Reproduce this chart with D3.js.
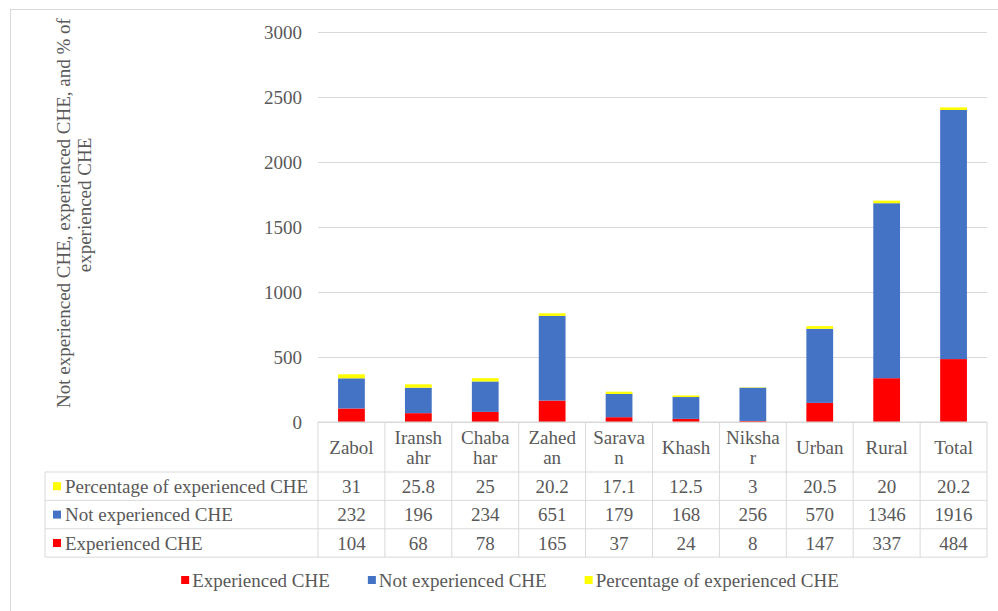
<!DOCTYPE html>
<html>
<head>
<meta charset="utf-8">
<script src="https://cdn.jsdelivr.net/npm/d3@7"></script>
<style>
  html, body { margin: 0; padding: 0; background: #fff; }
  svg { display: block; }
  text { font-family: "Liberation Serif", "Times New Roman", "DejaVu Serif", serif; fill: #595959; }
</style>
</head>
<body>
<svg id="chart" width="998" height="611"></svg>
<script>
// Household counts by district / area, stacked: experienced CHE, not experienced CHE, % experienced
const categories = ["Zabol", "Iranshahr", "Chabahar", "Zahedan", "Saravan", "Khash", "Nikshar", "Urban", "Rural", "Total"];
const experienced = [104, 68, 78, 165, 37, 24, 8, 147, 337, 484];
const notExperienced = [232, 196, 234, 651, 179, 168, 256, 570, 1346, 1916];
const percentExperienced = [31, 25.8, 25, 20.2, 17.1, 12.5, 3, 20.5, 20, 20.2];
const yTicks = [0, 500, 1000, 1500, 2000, 2500, 3000];

const seriesNames = ["Experienced CHE", "Not experienced CHE", "Percentage of experienced CHE"];
const seriesValues = [experienced, notExperienced, percentExperienced];
const seriesColors = ["#ff0000", "#4472c4", "#ffff00"];

const svg = d3.select("#chart");
const FONT = 19;
const SERIF = "Liberation Serif, Times New Roman, DejaVu Serif, serif";
const gridColor = "#d9d9d9";

// outer chart frame
svg.append("rect")
  .attr("x", 10.5).attr("y", 9.5)
  .attr("width", 1000).attr("height", 700)
  .attr("fill", "none").attr("stroke", gridColor);

const plotLeft = 318, plotRight = 987;
const x = d3.scaleBand().domain(categories).range([plotLeft, plotRight]);
const y = d3.scaleLinear().domain([0, 3000]).range([422, 32]);
const barW = x.bandwidth() * 0.4;

// gridlines and tick labels
const yAxis = d3.axisLeft(y)
  .tickValues(yTicks)
  .tickFormat(d3.format("d"))
  .tickSize(-(plotRight - plotLeft))
  .tickPadding(16);
const gAxis = svg.append("g")
  .attr("transform", `translate(${plotLeft},0)`)
  .call(yAxis)
  .attr("font-family", SERIF);
gAxis.select(".domain").remove();
gAxis.selectAll(".tick line").attr("stroke", gridColor);
gAxis.selectAll(".tick text")
  .attr("font-size", FONT)
  .attr("fill", "#595959");

// stacked bars
const rows = categories.map((c, i) => {
  const r = { cat: c };
  seriesNames.forEach((s, k) => { r[s] = seriesValues[k][i]; });
  return r;
});
const stack = d3.stack().keys(seriesNames)(rows);
svg.append("g").selectAll("g")
  .data(stack)
  .join("g")
  .attr("fill", (d, k) => seriesColors[k])
  .selectAll("rect")
  .data(d => d)
  .join("rect")
  .attr("x", d => x(d.data.cat) + (x.bandwidth() - barW) / 2)
  .attr("width", barW)
  .attr("y", d => y(d[1]))
  .attr("height", d => y(d[0]) - y(d[1]));

// data table beneath the plot
const headTop = 422, headBottom = 472, rowH = 28.4;
const tableLeft = 45;
const tableRows = [2, 1, 0]; // series order in table, top to bottom
const tableBottom = headBottom + rowH * tableRows.length;
const tbl = svg.append("g").attr("stroke", gridColor).attr("stroke-width", 1);

// horizontal rules
tbl.append("line").attr("x1", plotLeft).attr("x2", plotRight).attr("y1", headTop).attr("y2", headTop);
d3.range(tableRows.length + 1).forEach(i => {
  const yy = headBottom + i * rowH;
  tbl.append("line").attr("x1", tableLeft).attr("x2", plotRight).attr("y1", yy).attr("y2", yy);
});
// vertical rules
tbl.append("line").attr("x1", tableLeft).attr("x2", tableLeft).attr("y1", headBottom).attr("y2", tableBottom);
categories.forEach(c => {
  tbl.append("line").attr("x1", x(c)).attr("x2", x(c)).attr("y1", headTop).attr("y2", tableBottom);
});
tbl.append("line").attr("x1", plotRight).attr("x2", plotRight).attr("y1", headTop).attr("y2", tableBottom);

// category headers, wrapped by character to fit the column
const measure = svg.append("text").attr("font-size", FONT).attr("visibility", "hidden");
function textWidth(s) { measure.text(s); return measure.node().getComputedTextLength(); }
const maxW = x.bandwidth() - 12;
function wrapChars(s) {
  const lines = [];
  let cur = "";
  for (const ch of s) {
    if (cur && textWidth(cur + ch) > maxW) { lines.push(cur); cur = ch; }
    else cur += ch;
  }
  if (cur) lines.push(cur);
  return lines;
}
const lineH = 20;
categories.forEach(c => {
  const lines = wrapChars(c);
  const cy = (headTop + headBottom) / 2;
  const t = svg.append("text")
    .attr("x", x(c) + x.bandwidth() / 2)
    .attr("text-anchor", "middle")
    .attr("font-size", FONT);
  lines.forEach((ln, i) => {
    t.append("tspan")
      .attr("x", x(c) + x.bandwidth() / 2)
      .attr("y", cy + (i - (lines.length - 1) / 2) * lineH)
      .attr("dy", "0.35em")
      .text(ln);
  });
});
measure.remove();

// table body rows: legend key, series name, values
tableRows.forEach((k, r) => {
  const cy = headBottom + r * rowH + rowH / 2;
  svg.append("rect")
    .attr("x", 53).attr("y", cy - 4).attr("width", 8).attr("height", 8)
    .attr("fill", seriesColors[k]);
  svg.append("text")
    .attr("x", 65).attr("y", cy).attr("dy", "0.35em")
    .attr("font-size", FONT)
    .text(seriesNames[k]);
  categories.forEach((c, i) => {
    svg.append("text")
      .attr("x", x(c) + x.bandwidth() / 2).attr("y", cy).attr("dy", "0.35em")
      .attr("text-anchor", "middle")
      .attr("font-size", FONT)
      .text(seriesValues[k][i]);
  });
});

// y-axis title (two lines, rotated)
const title = svg.append("text")
  .attr("transform", "translate(63,213) rotate(-90)")
  .attr("text-anchor", "middle")
  .attr("font-size", FONT);
title.append("tspan").attr("x", 0).attr("y", 0).attr("dy", "0.35em")
  .text("Not experienced CHE, experienced CHE, and % of");
title.append("tspan").attr("x", 8).attr("y", 21).attr("dy", "0.35em")
  .text("experienced CHE");

// legend
const legend = svg.append("g");
let lx = 0;
seriesNames.forEach((name, k) => {
  const g = legend.append("g").attr("transform", `translate(${lx},0)`);
  g.append("rect").attr("x", 0).attr("y", -4).attr("width", 8).attr("height", 8).attr("fill", seriesColors[k]);
  const t = g.append("text").attr("x", 11).attr("y", 0).attr("dy", "0.35em").attr("font-size", FONT).text(name);
  lx += 11 + t.node().getComputedTextLength() + 38;
});
const legendW = lx - 38;
legend.attr("transform", `translate(${510 - legendW / 2},580)`);
</script>
</body>
</html>
